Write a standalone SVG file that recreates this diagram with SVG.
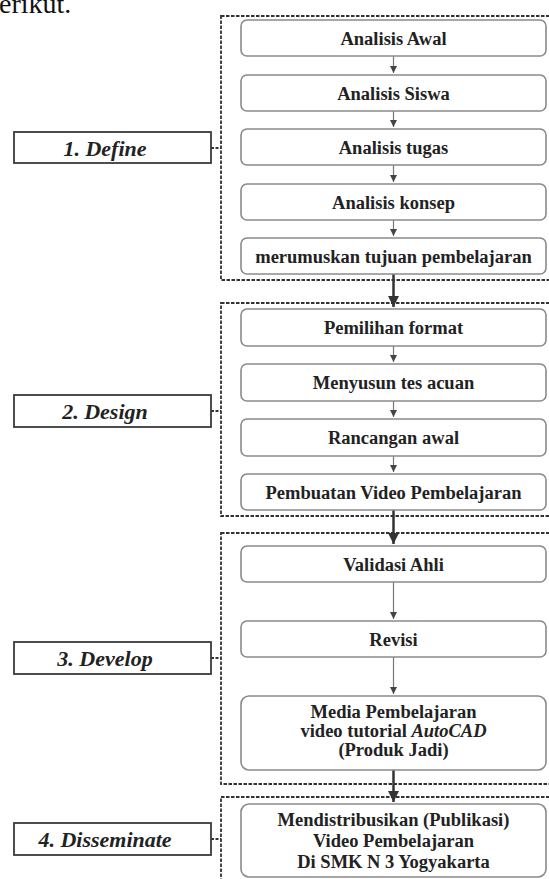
<svg xmlns="http://www.w3.org/2000/svg" width="549" height="879" viewBox="0 0 549 879">
<style>
.sec{fill:none;stroke:#333;stroke-width:1.8;stroke-dasharray:3.5 1.5}
.node{fill:#fff;stroke:#8a8a8a;stroke-width:1.6}
.lab{fill:#fff;stroke:#3a3a3a;stroke-width:1.8}
.t{font-family:"Liberation Serif",serif;font-weight:bold;font-size:18.5px;fill:#222;text-anchor:middle}
.lt{font-family:"Liberation Serif",serif;font-weight:bold;font-style:italic;font-size:22px;fill:#222;text-anchor:middle}
.thin{stroke:#777;stroke-width:1.2;fill:none}
.thick{stroke:#333;stroke-width:2.5;fill:none}
.tick{stroke:#333;stroke-width:1.8;stroke-dasharray:3 1.5}
</style>
<defs>
<marker id="ah" viewBox="0 0 8 8" refX="8" refY="4" markerWidth="7" markerHeight="7" markerUnits="userSpaceOnUse" orient="auto"><path d="M0,0 L8,4 L0,8 z" fill="#444"/></marker>
<marker id="ahb" viewBox="0 0 10 10" refX="10" refY="5" markerWidth="11" markerHeight="11" markerUnits="userSpaceOnUse" orient="auto"><path d="M0,0 L10,5 L0,10 z" fill="#333"/></marker>
</defs>
<text x="-1" y="13" font-family="Liberation Serif,serif" font-size="28" fill="#111">erikut.</text>
<g id="sections">
<rect class="sec" x="221" y="16" width="340" height="264"/>
<rect class="sec" x="221" y="303" width="340" height="213"/>
<rect class="sec" x="221" y="533" width="340" height="251"/>
<rect class="sec" x="221" y="797" width="340" height="100"/>
</g>
<g id="connectors">
<line class="thin" x1="393.5" y1="56" x2="393.5" y2="73" marker-end="url(#ah)"/>
<line class="thin" x1="393.5" y1="111" x2="393.5" y2="127" marker-end="url(#ah)"/>
<line class="thin" x1="393.5" y1="165" x2="393.5" y2="182" marker-end="url(#ah)"/>
<line class="thin" x1="393.5" y1="220" x2="393.5" y2="236" marker-end="url(#ah)"/>
<line class="thick" x1="393.5" y1="274" x2="393.5" y2="307" marker-end="url(#ahb)"/>
<line class="thin" x1="393.5" y1="346" x2="393.5" y2="362" marker-end="url(#ah)"/>
<line class="thin" x1="393.5" y1="401" x2="393.5" y2="417" marker-end="url(#ah)"/>
<line class="thin" x1="393.5" y1="456" x2="393.5" y2="472" marker-end="url(#ah)"/>
<line class="thick" x1="393.5" y1="510" x2="393.5" y2="544" marker-end="url(#ahb)"/>
<line class="thin" x1="393.5" y1="582" x2="393.5" y2="619" marker-end="url(#ah)"/>
<line class="thin" x1="393.5" y1="657" x2="393.5" y2="694" marker-end="url(#ah)"/>
<line class="thick" x1="393.5" y1="770" x2="393.5" y2="802" marker-end="url(#ahb)"/>
<line class="tick" x1="211" y1="148" x2="221" y2="148"/>
<line class="tick" x1="211" y1="411" x2="221" y2="411"/>
<line class="tick" x1="211" y1="658" x2="221" y2="658"/>
<line class="tick" x1="211" y1="839" x2="221" y2="839"/>
</g>
<g id="label-define"><rect class="lab" x="14" y="132" width="197" height="31"/><text class="lt" x="105" y="155.5">1. Define</text></g>
<g id="label-design"><rect class="lab" x="14" y="395" width="197" height="32"/><text class="lt" x="105" y="418.5">2. Design</text></g>
<g id="label-develop"><rect class="lab" x="14" y="642" width="197" height="32"/><text class="lt" x="105" y="665.5">3. Develop</text></g>
<g id="label-disseminate"><rect class="lab" x="14" y="823" width="197" height="32"/><text class="lt" x="105" y="846.5">4. Disseminate</text></g>
<g id="n1"><rect class="node" x="241" y="20" width="305" height="36" rx="6"/><text class="t" x="393.5" y="44.5">Analisis Awal</text></g>
<g id="n2"><rect class="node" x="241" y="75" width="305" height="36" rx="6"/><text class="t" x="393.5" y="99.5">Analisis Siswa</text></g>
<g id="n3"><rect class="node" x="241" y="129" width="305" height="36" rx="6"/><text class="t" x="393.5" y="153.5">Analisis tugas</text></g>
<g id="n4"><rect class="node" x="241" y="184" width="305" height="36" rx="6"/><text class="t" x="393.5" y="208.5">Analisis konsep</text></g>
<g id="n5"><rect class="node" x="241" y="238" width="305" height="36" rx="6"/><text class="t" x="393.5" y="262.5">merumuskan tujuan pembelajaran</text></g>
<g id="n6"><rect class="node" x="241" y="309" width="305" height="37" rx="6"/><text class="t" x="393.5" y="333.5">Pemilihan format</text></g>
<g id="n7"><rect class="node" x="241" y="364" width="305" height="37" rx="6"/><text class="t" x="393.5" y="388.5">Menyusun tes acuan</text></g>
<g id="n8"><rect class="node" x="241" y="419" width="305" height="37" rx="6"/><text class="t" x="393.5" y="443.5">Rancangan awal</text></g>
<g id="n9"><rect class="node" x="241" y="474" width="305" height="36" rx="6"/><text class="t" x="393.5" y="498.5">Pembuatan Video Pembelajaran</text></g>
<g id="n10"><rect class="node" x="241" y="546" width="305" height="36" rx="6"/><text class="t" x="393.5" y="570.5">Validasi Ahli</text></g>
<g id="n11"><rect class="node" x="241" y="621" width="305" height="36" rx="6"/><text class="t" x="393.5" y="645.5">Revisi</text></g>
<g id="n12"><rect class="node" x="241" y="696" width="305" height="74" rx="8"/><text class="t" x="393.5" y="718">Media Pembelajaran</text><text class="t" x="393.5" y="737">video tutorial <tspan font-style="italic">AutoCAD</tspan></text><text class="t" x="393.5" y="756">(Produk Jadi)</text></g>
<g id="n13"><rect class="node" x="241" y="804" width="305" height="73" rx="8"/><text class="t" x="393.5" y="826">Mendistribusikan (Publikasi)</text><text class="t" x="393.5" y="847">Video Pembelajaran</text><text class="t" x="393.5" y="868">Di SMK N 3 Yogyakarta</text></g>
</svg>
